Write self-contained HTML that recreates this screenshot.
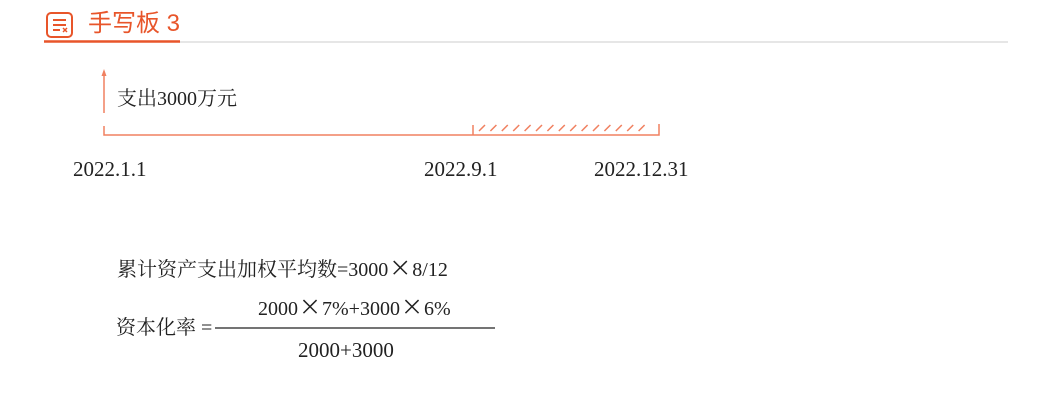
<!DOCTYPE html>
<html><head><meta charset="utf-8"><style>
body{margin:0;width:1040px;height:401px;background:#fff;position:relative;overflow:hidden;font-family:"Liberation Serif","Noto Serif CJK SC",serif;color:#222}
.t{position:absolute;white-space:nowrap;line-height:1}
.x{font-family:"Noto Sans CJK SC",sans-serif;font-size:1.1em;padding:0 1px;line-height:1}
</style></head><body>
<svg width="1040" height="401" style="position:absolute;left:0;top:0">
<g stroke="#e8552a" fill="none" stroke-width="2">
<rect x="47" y="13" width="25" height="24" rx="4"/>
<line x1="53" y1="20" x2="66" y2="20"/><line x1="53" y1="25" x2="66" y2="25"/><line x1="53" y1="30" x2="60" y2="30"/>
<line x1="63" y1="28" x2="67" y2="32" stroke-width="1.5"/><line x1="67" y1="28" x2="63" y2="32" stroke-width="1.5"/>
</g>
<line x1="179" y1="42" x2="1008" y2="42" stroke="#ddd" stroke-width="1.5"/>
<line x1="44" y1="41.5" x2="180" y2="41.5" stroke="#e8552a" stroke-width="2.5"/>
<g stroke="#f08060" stroke-width="1.5" fill="none">
<line x1="104" y1="74" x2="104" y2="113"/>
<polygon points="104,69 101.5,76 106.5,76" fill="#f08060" stroke="none"/>
<polyline points="104,126 104,135 659,135 659,124"/>
<line x1="473" y1="125" x2="473" y2="135"/>
<g id="hatch"></g>
</g>
<line x1="215" y1="328" x2="495" y2="328" stroke="#222" stroke-width="1.2"/>
</svg>
<div class="t" style="left:88px;top:12px;font-size:24px;color:#e8552a;font-family:'Liberation Sans','Noto Sans CJK SC',sans-serif">手写板 3</div>
<div class="t" style="left:117px;top:89px;font-size:20px">支出3000万元</div>
<div class="t" style="left:73px;top:159px;font-size:21px">2022.1.1</div>
<div class="t" style="left:424px;top:159px;font-size:21px">2022.9.1</div>
<div class="t" style="left:594px;top:159px;font-size:21px">2022.12.31</div>
<div class="t" style="left:117px;top:256px;font-size:20px">累计资产支出加权平均数=3000<span class="x">×</span>8/12</div>
<div class="t" style="left:116px;top:318px;font-size:20px">资本化率 =</div>
<div class="t" style="left:258px;top:295px;font-size:20px">2000<span class="x">×</span>7%+3000<span class="x">×</span>6%</div>
<div class="t" style="left:298px;top:340px;font-size:21px">2000+3000</div>
<script>
var g=document.getElementById('hatch');
for(var i=0;i<15;i++){var x=479+i*11.4;var l=document.createElementNS('http://www.w3.org/2000/svg','line');
l.setAttribute('x1',x);l.setAttribute('y1',131);l.setAttribute('x2',x+6);l.setAttribute('y2',125);


g.appendChild(l);}
</script>
</body></html>
